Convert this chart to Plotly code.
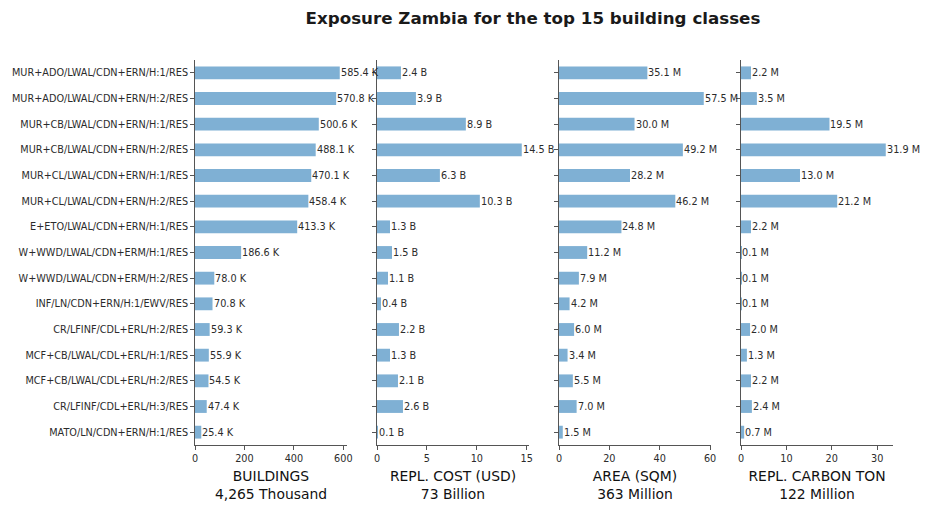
import plotly.graph_objects as go

categories = [
    "MUR+ADO/LWAL/CDN+ERN/H:1/RES",
    "MUR+ADO/LWAL/CDN+ERN/H:2/RES",
    "MUR+CB/LWAL/CDN+ERN/H:1/RES",
    "MUR+CB/LWAL/CDN+ERN/H:2/RES",
    "MUR+CL/LWAL/CDN+ERN/H:1/RES",
    "MUR+CL/LWAL/CDN+ERN/H:2/RES",
    "E+ETO/LWAL/CDN+ERN/H:1/RES",
    "W+WWD/LWAL/CDN+ERM/H:1/RES",
    "W+WWD/LWAL/CDN+ERM/H:2/RES",
    "INF/LN/CDN+ERN/H:1/EWV/RES",
    "CR/LFINF/CDL+ERL/H:2/RES",
    "MCF+CB/LWAL/CDL+ERL/H:1/RES",
    "MCF+CB/LWAL/CDL+ERL/H:2/RES",
    "CR/LFINF/CDL+ERL/H:3/RES",
    "MATO/LN/CDN+ERN/H:1/RES",
]
buildings_k = [585.4, 570.8, 500.6, 488.1, 470.1, 458.4, 413.3, 186.6, 78.0, 70.8, 59.3, 55.9, 54.5, 47.4, 25.4]
cost_b = [2.4, 3.9, 8.9, 14.5, 6.3, 10.3, 1.3, 1.5, 1.1, 0.4, 2.2, 1.3, 2.1, 2.6, 0.1]
area_m = [35.1, 57.5, 30.0, 49.2, 28.2, 46.2, 24.8, 11.2, 7.9, 4.2, 6.0, 3.4, 5.5, 7.0, 1.5]
carbon_m = [2.2, 3.5, 19.5, 31.9, 13.0, 21.2, 2.2, 0.1, 0.1, 0.1, 2.0, 1.3, 2.2, 2.4, 0.7]

panel_titles = ["BUILDINGS<br>4,265 Thousand", "REPL. COST (USD)<br>73 Billion",
                "AREA (SQM)<br>363 Million", "REPL. CARBON TON<br>122 Million"]
suffixes = [" K", " B", " M", " M"]
dticks = [200, 5, 20, 10]
series = [buildings_k, cost_b, area_m, carbon_m]

W, H = 930, 510
ml, mr, mt, mb = 195, 37, 60, 65
pw, gap = 152, 30
plot_w = W - ml - mr

fig = go.Figure()
bar_color = "#7fb0d4"
txt_color = "#2b2b2b"
axis_color = "#555555"
font_fam = "DejaVu Sans"

annotations = []
for i, (vals, suf, dt, ttl) in enumerate(zip(series, suffixes, dticks, panel_titles)):
    xa = "x" if i == 0 else f"x{i+1}"
    ya = "y" if i == 0 else f"y{i+1}"
    fig.add_trace(go.Bar(
        x=vals, y=categories, orientation="h", width=0.5,
        marker=dict(color=bar_color, line=dict(width=0)),
        xaxis=xa, yaxis=ya, showlegend=False, hoverinfo="skip",
    ))
    for v, c in zip(vals, categories):
        annotations.append(dict(
            x=v, y=c, xref=xa, yref=ya, text=f"{v:.1f}{suf}", showarrow=False,
            xanchor="left", yanchor="middle", xshift=-1,
            font=dict(size=9.7, color=txt_color, family=font_fam),
        ))
    x0 = (i * (pw + gap)) / plot_w
    x1 = (i * (pw + gap) + pw) / plot_w
    xkey = "xaxis" if i == 0 else f"xaxis{i+1}"
    ykey = "yaxis" if i == 0 else f"yaxis{i+1}"
    fig.layout[xkey] = dict(
        domain=[x0, min(x1, 1)], range=[0, max(vals) * 1.05], dtick=dt, tick0=0,
        showgrid=False, zeroline=False, showline=True, linecolor=axis_color, linewidth=1,
        ticks="outside", ticklen=4, tickcolor=axis_color,
        tickfont=dict(size=9.7, color=txt_color, family=font_fam),
        title=dict(text=ttl, font=dict(size=13.9, color="#111111", family=font_fam), standoff=8),
        anchor=ya, fixedrange=True,
    )
    fig.layout[ykey] = dict(
        domain=[0, 1], autorange="reversed", showgrid=False, zeroline=False,
        showline=True, linecolor=axis_color, linewidth=1,
        ticks="outside", ticklen=4, tickcolor=axis_color,
        showticklabels=(i == 0),
        tickfont=dict(size=9.7, color=txt_color, family=font_fam),
        anchor=xa, fixedrange=True, type="category",
    )

fig.update_layout(
    width=W, height=H,
    margin=dict(l=ml, r=mr, t=mt, b=mb),
    paper_bgcolor="white", plot_bgcolor="white",
    font=dict(family=font_fam, color=txt_color),
    annotations=annotations,
    title=dict(text="<b>Exposure Zambia for the top 15 building classes</b>",
               x=533 / W, xanchor="center", y=1 - 18 / H, yanchor="middle",
               font=dict(size=16.7, color="#1a1a1a", family=font_fam)),
)

fig.write_html("out.html")
